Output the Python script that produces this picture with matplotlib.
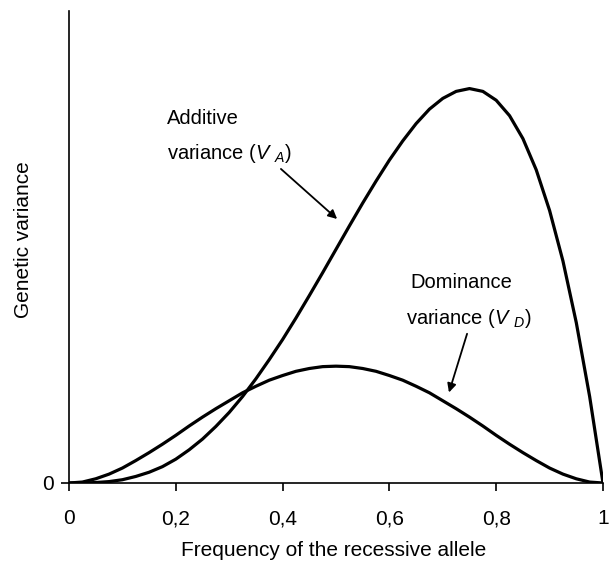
import matplotlib
matplotlib.use("Agg")
import matplotlib.pyplot as plt

plt.rcParams['font.family'] = ['Liberation Sans', 'DejaVu Sans']
plt.rcParams['mathtext.fontset'] = 'custom'
plt.rcParams['mathtext.rm'] = 'Liberation Sans'
plt.rcParams['mathtext.it'] = 'Liberation Sans:italic'

# Frequency of the recessive allele
freq = [0.0, 0.025, 0.05, 0.075, 0.1, 0.125, 0.15, 0.175, 0.2, 0.225, 0.25,
        0.275, 0.3, 0.325, 0.35, 0.375, 0.4, 0.425, 0.45, 0.475, 0.5,
        0.525, 0.55, 0.575, 0.6, 0.625, 0.65, 0.675, 0.7, 0.725, 0.75,
        0.775, 0.8, 0.825, 0.85, 0.875, 0.9, 0.925, 0.95, 0.975, 1.0]

# Additive variance (arbitrary units)
additive = [0.000, 0.000, 0.001, 0.003, 0.007, 0.014, 0.023, 0.035, 0.051, 0.071, 0.094,
            0.121, 0.151, 0.185, 0.223, 0.264, 0.307, 0.353, 0.401, 0.450, 0.500,
            0.550, 0.599, 0.646, 0.691, 0.732, 0.769, 0.800, 0.823, 0.838, 0.844,
            0.838, 0.819, 0.786, 0.737, 0.670, 0.583, 0.475, 0.343, 0.185, 0.000]

# Dominance variance (arbitrary units)
dominance = [0.000, 0.002, 0.009, 0.019, 0.032, 0.048, 0.065, 0.083, 0.102, 0.122, 0.141,
             0.159, 0.176, 0.193, 0.207, 0.220, 0.230, 0.239, 0.245, 0.249, 0.250,
             0.249, 0.245, 0.239, 0.230, 0.220, 0.207, 0.193, 0.176, 0.159, 0.141,
             0.122, 0.102, 0.083, 0.065, 0.048, 0.032, 0.019, 0.009, 0.002, 0.000]

x_ticks = [0, 0.2, 0.4, 0.6, 0.8, 1.0]
x_tick_labels = ["0", "0,2", "0,4", "0,6", "0,8", "1"]

fig = plt.figure(figsize=(6.09, 5.64), dpi=100)
ax = fig.add_axes([69 / 609, 81 / 564, 534 / 609, 472 / 564])

ax.plot(freq, additive, color="black", lw=2.3, solid_joinstyle="round")
ax.plot(freq, dominance, color="black", lw=2.3, solid_joinstyle="round")

ax.set_xlim(0, 1)
ax.set_ylim(0, 1.01)
ax.spines["top"].set_visible(False)
ax.spines["right"].set_visible(False)
ax.spines["left"].set_linewidth(1.2)
ax.spines["bottom"].set_linewidth(1.2)

ax.set_xticks(x_ticks)
ax.set_xticklabels(x_tick_labels)
ax.set_yticks([0])
ax.set_yticklabels(["0"])
ax.tick_params(axis="both", direction="out", length=6, width=1.2, labelsize=15)
ax.tick_params(axis="x", pad=13)
ax.tick_params(axis="y", pad=5)

ax.set_xlabel("Frequency of the recessive allele", fontsize=15, va="center")
ax.set_ylabel("Genetic variance", fontsize=15, va="center")
ax.xaxis.set_label_coords(0.5 - 2 / 534, -67 / 472)
ax.yaxis.set_label_coords(-45 / 534, (483 - 240) / 472)

# Labels and arrows
ax.text(0.1835, 0.781, "Additive", fontsize=14.5, ha="left", va="center")
ax.text(0.1835, 0.706, r"variance ($V\ _{A}$)", fontsize=14.5, ha="left", va="center")
ax.annotate("", xy=(0.506, 0.561), xytext=(0.393, 0.676),
            arrowprops=dict(arrowstyle="-|>", lw=1.3, color="black", mutation_scale=13))

ax.text(0.640, 0.428, "Dominance", fontsize=14.5, ha="left", va="center")
ax.text(0.631, 0.353, r"variance ($V\ _{D}$)", fontsize=14.5, ha="left", va="center")
ax.annotate("", xy=(0.710, 0.188), xytext=(0.747, 0.325),
            arrowprops=dict(arrowstyle="-|>", lw=1.3, color="black", mutation_scale=13))

plt.savefig("out.png", dpi=100)
plt.close()
